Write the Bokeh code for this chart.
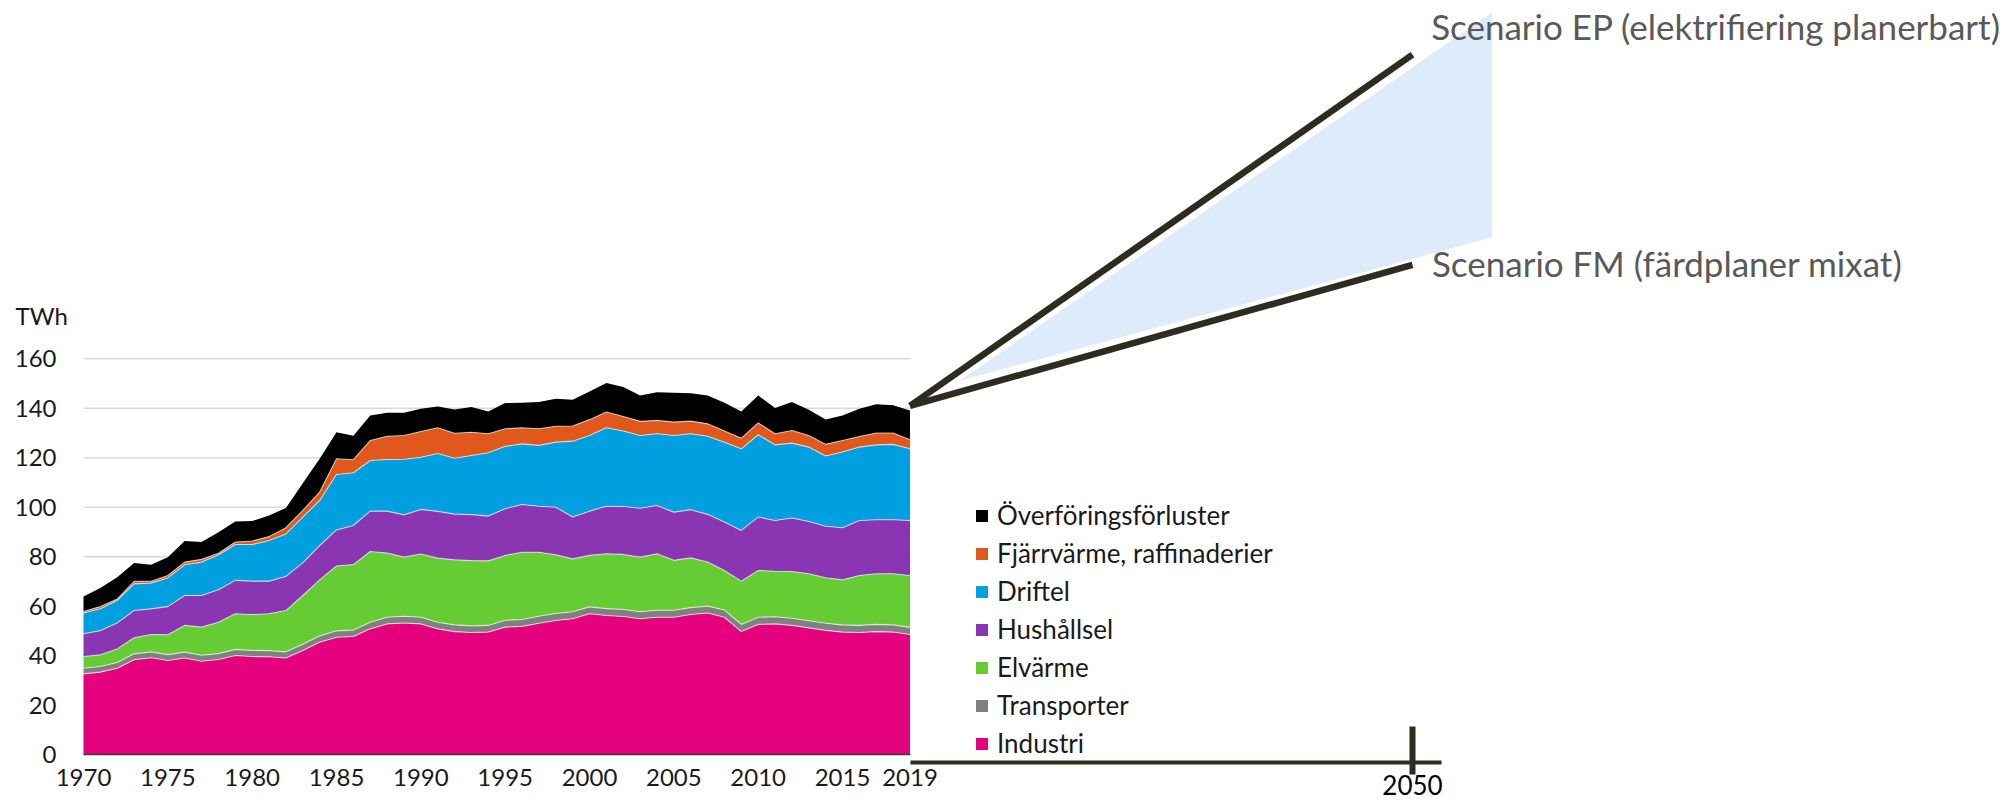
import numpy as np
from bokeh.plotting import figure
from bokeh.models import (ColumnDataSource, Range1d, LinearAxis, FixedTicker,
                          Legend, LegendItem, Label)
from bokeh.core.properties import value
from bokeh.embed import file_html
from bokeh.resources import INLINE

# ---------------- data (TWh) ----------------
years = list(range(1970, 2020))

industri = [32.6, 33.3, 34.9, 38.3, 39.1, 38.0, 39.0, 37.7, 38.4, 40.0,
            39.6, 39.5, 39.0, 42.1, 45.4, 47.4, 47.7, 50.8, 52.8, 53.2,
            52.8, 50.8, 49.7, 49.3, 49.5, 51.5, 51.8, 53.1, 54.2, 54.9,
            56.9, 56.2, 55.8, 54.9, 55.5, 55.5, 56.6, 57.2, 55.5, 49.7,
            52.6, 52.8, 52.2, 51.2, 50.2, 49.5, 49.3, 49.7, 49.5, 48.5]
transporter = [2.3, 2.3, 2.3, 2.4, 2.4, 2.4, 2.4, 2.4, 2.4, 2.5,
               2.5, 2.5, 2.5, 2.5, 2.5, 2.6, 2.6, 2.7, 2.7, 2.7,
               2.7, 2.7, 2.7, 2.7, 2.7, 2.8, 2.8, 2.8, 2.8, 2.8,
               2.8, 2.8, 2.8, 2.8, 2.8, 2.8, 2.8, 2.8, 2.9, 2.9,
               2.9, 2.9, 2.9, 2.9, 2.9, 2.9, 2.9, 2.9, 2.9, 2.9]
elvarme = [4.7, 4.7, 5.5, 6.5, 7.0, 8.0, 10.8, 11.4, 12.7, 14.4,
           14.5, 14.9, 16.7, 19.7, 22.7, 26.2, 26.5, 28.6, 26.0, 23.9,
           25.6, 25.9, 26.3, 26.4, 26.1, 26.2, 27.2, 25.9, 23.8, 21.4,
           20.8, 22.2, 22.3, 22.1, 22.9, 20.2, 20.1, 17.8, 16.0, 17.5,
           18.9, 18.4, 18.9, 19.0, 18.4, 18.2, 20.2, 20.5, 20.7, 21.0]
hushallsel = [9.2, 9.8, 10.5, 11.0, 10.4, 11.4, 12.1, 12.8, 13.1, 13.5,
              13.5, 13.2, 13.8, 13.2, 13.9, 14.6, 15.8, 16.3, 16.9, 17.1,
              18.0, 18.9, 18.5, 18.6, 18.1, 18.9, 19.3, 18.6, 19.2, 16.9,
              17.9, 19.2, 19.4, 19.8, 19.5, 19.5, 19.5, 19.3, 19.6, 20.5,
              21.6, 20.5, 21.6, 21.1, 20.8, 21.1, 22.2, 21.8, 21.8, 22.2]
driftel = [8.4, 8.8, 9.1, 10.8, 10.4, 11.6, 12.4, 13.5, 14.1, 14.5,
           14.8, 16.4, 17.2, 18.5, 18.2, 22.4, 21.3, 20.5, 20.9, 22.5,
           21.1, 23.4, 22.6, 23.9, 25.6, 25.2, 24.5, 24.6, 26.3, 30.7,
           30.6, 31.7, 30.5, 29.4, 29.0, 31.0, 30.7, 31.6, 32.3, 33.0,
           33.3, 30.6, 30.3, 30.1, 28.4, 30.6, 29.7, 30.3, 30.5, 29.0]
fjarrvarme = [0.6, 0.9, 0.6, 1.0, 0.7, 1.0, 1.1, 1.1, 0.7, 1.0,
              1.4, 1.6, 2.5, 2.7, 3.4, 6.4, 5.3, 8.1, 9.4, 9.6,
              10.4, 10.4, 10.1, 9.4, 7.7, 7.1, 6.5, 6.7, 6.4, 6.1,
              6.4, 6.4, 5.9, 5.7, 5.4, 5.4, 5.1, 5.0, 4.5, 4.3,
              4.8, 4.5, 5.1, 4.7, 4.7, 4.7, 4.3, 4.8, 4.6, 3.7]
forluster = [6.1, 7.5, 8.8, 7.4, 6.7, 7.4, 8.5, 7.0, 8.5, 8.3,
             8.1, 8.5, 8.0, 11.0, 13.5, 10.7, 9.7, 10.1, 9.5, 9.2,
             9.2, 8.6, 9.6, 10.2, 9.0, 10.4, 10.1, 10.8, 11.1, 10.6,
             11.4, 11.7, 11.9, 10.5, 11.4, 11.9, 11.3, 11.5, 11.4, 10.8,
             11.1, 10.4, 11.5, 10.4, 10.1, 10.1, 11.2, 11.6, 11.2, 11.8]

series_keys = ["industri", "transporter", "elvarme", "hushallsel",
               "driftel", "fjarrvarme", "forluster"]
series_labels = ["Industri", "Transporter", "Elvärme", "Hushållsel",
                 "Driftel", "Fjärrvärme, raffinaderier", "Överföringsförluster"]
series_colors = ["#E5007D", "#808080", "#66CC33", "#8A35B2",
                 "#009FE0", "#E0581C", "#000000"]

y_ticks = [0, 20, 40, 60, 80, 100, 120, 140, 160]
x_ticks = [1970, 1975, 1980, 1985, 1990, 1995, 2000, 2005, 2010, 2015, 2019]

# scenarios towards 2050
scenario_years = [2019, 2050]
scenario_ep = [141.0, 283.0]
scenario_fm = [141.0, 198.0]
scenario_ep_label = "Scenario EP (elektrifiering planerbart)"
scenario_fm_label = "Scenario FM (färdplaner mixat)"
band_years = [2022.1, 2054.9]
band_low = [151.2, 209.1]
band_high = [151.2, 300.0]
proj_ticks = [2050]

# ---------------- layout constants ----------------
W, H = 2005, 804
FONT = "Lato"
px_year = (909.5 - 83.0) / 49.0
x0 = 1970 - 83.0 / px_year
px_proj = (1412.0 - 909.5) / 31.0
xp0 = 2019 - 909.5 / px_proj
px_val = (754.0 - 358.3) / 160.0
y_top = 754.0 / px_val
y_bot = (754.0 - H) / px_val

p = figure(width=W, height=H, output_backend="svg", toolbar_location=None,
           x_axis_location=None, y_axis_location=None, min_border=0,
           x_range=Range1d(x0, x0 + W / px_year),
           y_range=Range1d(y_bot, y_top))
p.extra_x_ranges = {"proj": Range1d(xp0, xp0 + W / px_proj)}
p.outline_line_color = None
p.xgrid.visible = False
p.ygrid.visible = False
p.background_fill_color = "white"

# grid lines (only over the historical period)
p.segment(x0=[years[0]] * (len(y_ticks) - 1), x1=[years[-1]] * (len(y_ticks) - 1),
          y0=y_ticks[1:], y1=y_ticks[1:], line_color="#D9D9D9", line_width=1.6)

data = dict(year=years, industri=industri, transporter=transporter,
            elvarme=elvarme, hushallsel=hushallsel, driftel=driftel,
            fjarrvarme=fjarrvarme, forluster=forluster)
src = ColumnDataSource(data)
renderers = p.varea_stack(stackers=series_keys, x="year", color=series_colors,
                          source=src)

# thin light separators between layers
cum = np.zeros(len(years))
for k in series_keys[:-1]:
    cum = cum + np.array(data[k])
    p.line(years, list(cum), line_color="white", line_width=1.1, line_alpha=0.65)

# projection band and scenario lines
p.varea(x=band_years, y1=band_low, y2=band_high, fill_color="#DEEBFB",
        x_range_name="proj")
p.line(scenario_years, scenario_ep, line_color="#2E2B21", line_width=6.5,
       line_cap="butt", x_range_name="proj")
p.line(scenario_years, scenario_fm, line_color="#2E2B21", line_width=6.5,
       line_cap="butt", x_range_name="proj")

lab_src = ColumnDataSource(dict(x=[2051.15, 2051.2],
                                y=[289.0 + 14 / px_val, 193.5 + 13 / px_val],
                                t=[scenario_ep_label, scenario_fm_label]))
p.text(x="x", y="y", text="t", source=lab_src, x_range_name="proj",
       text_font=value(FONT), text_font_size="35px", text_color="#595959",
       text_baseline="alphabetic", text_align="left")

# axes
yaxis = LinearAxis(fixed_location=years[0], bounds=(y_ticks[0], y_ticks[-1]),
                   ticker=FixedTicker(ticks=y_ticks))
yaxis.axis_line_color = None
yaxis.major_tick_line_color = None
yaxis.minor_tick_line_color = None
yaxis.major_tick_out = 0
yaxis.major_tick_in = 0
yaxis.major_label_standoff = 27
yaxis.major_label_text_font = FONT
yaxis.major_label_text_font_size = "24px"
yaxis.major_label_text_color = "#1A1A1A"
p.add_layout(yaxis, "left")

xaxis = LinearAxis(fixed_location=0, bounds=(years[0], years[-1]),
                   ticker=FixedTicker(ticks=x_ticks))
xaxis.axis_line_color = "#3A3A3A"
xaxis.axis_line_width = 1.6
xaxis.major_tick_line_color = None
xaxis.minor_tick_line_color = None
xaxis.major_tick_out = 0
xaxis.major_tick_in = 0
xaxis.major_label_standoff = 14
xaxis.major_label_text_font = FONT
xaxis.major_label_text_font_size = "24px"
xaxis.major_label_text_color = "#1A1A1A"
p.add_layout(xaxis, "below")

paxis = LinearAxis(x_range_name="proj", fixed_location=-3.11,
                   bounds=(2019, 2051.8), ticker=FixedTicker(ticks=proj_ticks))
paxis.axis_line_color = "#2E2B21"
paxis.axis_line_width = 4
paxis.major_tick_line_color = "#2E2B21"
paxis.major_tick_line_width = 6
paxis.major_tick_in = 36
paxis.major_tick_out = 12
paxis.minor_tick_line_color = None
paxis.major_label_standoff = 1
paxis.major_label_text_font = FONT
paxis.major_label_text_font_size = "26px"
paxis.major_label_text_color = "#000000"
p.add_layout(paxis, "below")

p.add_layout(Label(x=x0 + 15 / px_year, y=173.8 + 9 / px_val, text="TWh",
                   text_font=FONT, text_font_size="24px", text_color="#1A1A1A",
                   text_baseline="alphabetic"))

# legend (top = last stacked layer)
items = [LegendItem(label=lab, renderers=[r])
         for lab, r in zip(series_labels[::-1], renderers[::-1])]
legend = Legend(items=items, location=(974, 42), orientation="vertical",
                glyph_width=15, glyph_height=15, label_height=38, spacing=0,
                padding=0, margin=0, label_standoff=8,
                label_text_font=FONT, label_text_font_size="26px",
                label_text_color="#1A1A1A", border_line_color=None,
                background_fill_alpha=0)
p.add_layout(legend)

open("out.html", "w").write(file_html(p, INLINE))
